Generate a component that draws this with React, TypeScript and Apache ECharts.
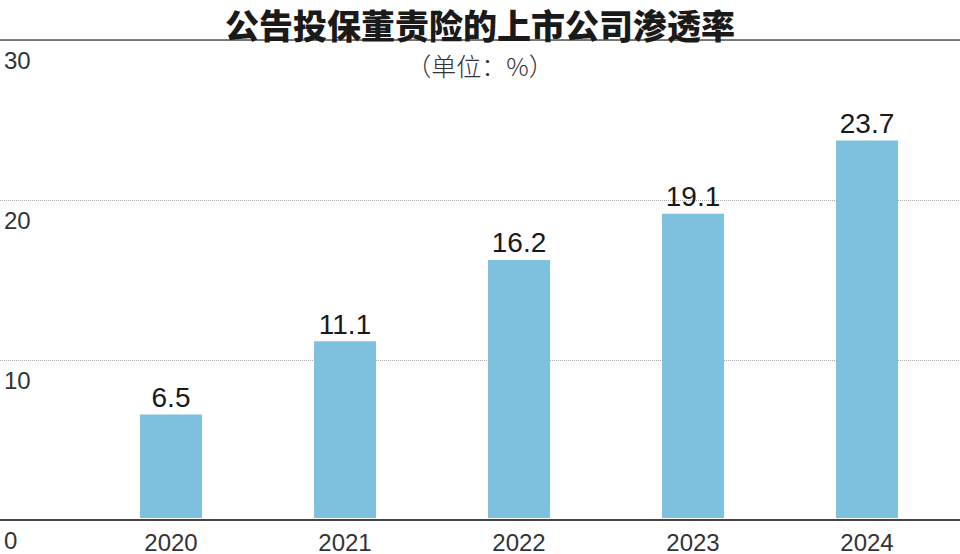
import React, { useEffect, useRef } from "react";
import * as echarts from "echarts";

const categories = ["2020", "2021", "2022", "2023", "2024"];
const values = [6.5, 11.1, 16.2, 19.1, 23.7];
const yTicks = [0, 10, 20, 30];

export default function App() {
  const ref = useRef<HTMLDivElement>(null);
  useEffect(() => {
    if (!ref.current) return;
    const chart = echarts.init(ref.current, undefined, { renderer: "svg" });
    const font = "'Liberation Sans', Arial, sans-serif";
    chart.setOption({
      animation: false,
      backgroundColor: "#ffffff",
      title: [
        {
          text: "公告投保董责险的上市公司渗透率",
          left: "center",
          top: 1,
          textStyle: {
            fontFamily: "'Noto Sans CJK SC', sans-serif",
            fontSize: 34,
            lineHeight: 36,
            fontWeight: 900,
            color: "#1a1a1a",
          },
        },
        {
          text: "（单位：%）",
          left: "center",
          top: 47,
          textStyle: {
            fontFamily: "'Noto Sans CJK SC', sans-serif",
            fontSize: 25,
            fontWeight: 300,
            color: "#333",
          },
        },
      ],
      grid: [
        { left: 84, right: 6, top: 40, bottom: 34 },
        { left: 0, right: 0, top: 40, bottom: 34 },
      ],
      xAxis: [
        {
          type: "category",
          gridIndex: 0,
          data: categories,
          axisLine: { show: false },
          axisTick: { show: false },
          axisLabel: {
            fontFamily: font,
            fontSize: 24,
            color: "#333",
            margin: 12,
          },
        },
        {
          type: "value",
          gridIndex: 1,
          position: "bottom",
          axisLine: { show: true, lineStyle: { color: "#444", width: 2 } },
          axisTick: { show: false },
          axisLabel: { show: false },
          splitLine: { show: false },
        },
        {
          type: "value",
          gridIndex: 1,
          position: "top",
          axisLine: { show: true, lineStyle: { color: "#555", width: 1.5 } },
          axisTick: { show: false },
          axisLabel: { show: false },
          splitLine: { show: false },
        },
      ],
      yAxis: [
        {
          type: "value",
          gridIndex: 0,
          min: yTicks[0],
          max: yTicks[yTicks.length - 1],
          interval: 10,
          axisLine: { show: false },
          axisTick: { show: false },
          axisLabel: { show: false },
          splitLine: { show: false },
        },
        {
          type: "value",
          gridIndex: 1,
          min: yTicks[0],
          max: yTicks[yTicks.length - 1],
          interval: 10,
          axisLine: { show: false },
          axisTick: { show: false },
          axisLabel: {
            inside: true,
            margin: 4,
            verticalAlign: "top",
            padding: [8, 0, 0, 0],
            fontFamily: font,
            fontSize: 24,
            color: "#333",
          },
          splitLine: {
            show: true,
            lineStyle: { color: "#aaa", type: "dotted", width: 1 },
          },
        },
      ],
      series: [
        {
          type: "bar",
          xAxisIndex: 0,
          yAxisIndex: 0,
          data: values,
          barWidth: 62,
          itemStyle: { color: "#7ec1de" },
          label: {
            show: true,
            position: "top",
            distance: 3,
            fontFamily: font,
            fontSize: 28,
            color: "#1a1a1a",
          },
        },
      ],
    });
    return () => chart.dispose();
  }, []);
  return <div ref={ref} style={{ width: 960, height: 554, position: "absolute", left: 0, top: 0 }} />;
}
